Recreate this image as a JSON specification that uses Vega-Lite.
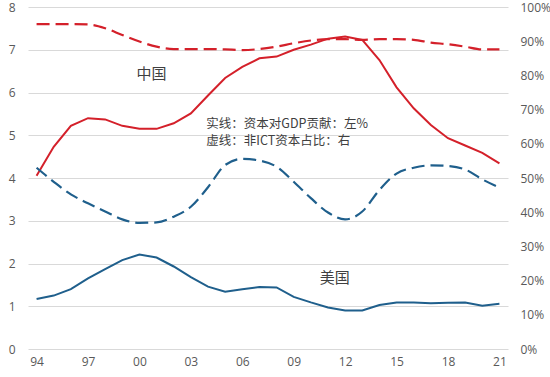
{
  "$schema": "https://vega.github.io/schema/vega-lite/v6.json",
  "width": 480,
  "height": 342,
  "autosize": {"type": "none"},
  "padding": {"left": 28, "top": 7, "right": 42, "bottom": 28},
  "background": "white",
  "config": {
    "view": {"stroke": null},
    "font": "Open Sans",
    "axis": {"labelColor": "#595959", "labelFontSize": 12, "domain": false, "ticks": false, "labelFont": "Open Sans"}
  },
  "datasets": {
    "series": [
      {"year": 1994, "country": "中国", "contrib": 4.05, "share": 0.950},
      {"year": 1995, "country": "中国", "contrib": 4.73, "share": 0.950},
      {"year": 1996, "country": "中国", "contrib": 5.22, "share": 0.950},
      {"year": 1997, "country": "中国", "contrib": 5.40, "share": 0.949},
      {"year": 1998, "country": "中国", "contrib": 5.37, "share": 0.938},
      {"year": 1999, "country": "中国", "contrib": 5.22, "share": 0.918},
      {"year": 2000, "country": "中国", "contrib": 5.15, "share": 0.899},
      {"year": 2001, "country": "中国", "contrib": 5.15, "share": 0.884},
      {"year": 2002, "country": "中国", "contrib": 5.28, "share": 0.877},
      {"year": 2003, "country": "中国", "contrib": 5.51, "share": 0.877},
      {"year": 2004, "country": "中国", "contrib": 5.93, "share": 0.877},
      {"year": 2005, "country": "中国", "contrib": 6.34, "share": 0.876},
      {"year": 2006, "country": "中国", "contrib": 6.60, "share": 0.874},
      {"year": 2007, "country": "中国", "contrib": 6.80, "share": 0.877},
      {"year": 2008, "country": "中国", "contrib": 6.84, "share": 0.884},
      {"year": 2009, "country": "中国", "contrib": 7.00, "share": 0.894},
      {"year": 2010, "country": "中国", "contrib": 7.12, "share": 0.902},
      {"year": 2011, "country": "中国", "contrib": 7.26, "share": 0.906},
      {"year": 2012, "country": "中国", "contrib": 7.31, "share": 0.906},
      {"year": 2013, "country": "中国", "contrib": 7.23, "share": 0.904},
      {"year": 2014, "country": "中国", "contrib": 6.76, "share": 0.906},
      {"year": 2015, "country": "中国", "contrib": 6.12, "share": 0.906},
      {"year": 2016, "country": "中国", "contrib": 5.63, "share": 0.904},
      {"year": 2017, "country": "中国", "contrib": 5.24, "share": 0.896},
      {"year": 2018, "country": "中国", "contrib": 4.93, "share": 0.891},
      {"year": 2019, "country": "中国", "contrib": 4.76, "share": 0.884},
      {"year": 2020, "country": "中国", "contrib": 4.59, "share": 0.876},
      {"year": 2021, "country": "中国", "contrib": 4.34, "share": 0.876},
      {"year": 1994, "country": "美国", "contrib": 1.17, "share": 0.530},
      {"year": 1995, "country": "美国", "contrib": 1.25, "share": 0.489},
      {"year": 1996, "country": "美国", "contrib": 1.40, "share": 0.452},
      {"year": 1997, "country": "美国", "contrib": 1.65, "share": 0.426},
      {"year": 1998, "country": "美国", "contrib": 1.87, "share": 0.402},
      {"year": 1999, "country": "美国", "contrib": 2.08, "share": 0.379},
      {"year": 2000, "country": "美国", "contrib": 2.21, "share": 0.369},
      {"year": 2001, "country": "美国", "contrib": 2.14, "share": 0.370},
      {"year": 2002, "country": "美国", "contrib": 1.93, "share": 0.387},
      {"year": 2003, "country": "美国", "contrib": 1.68, "share": 0.416},
      {"year": 2004, "country": "美国", "contrib": 1.46, "share": 0.473},
      {"year": 2005, "country": "美国", "contrib": 1.34, "share": 0.538},
      {"year": 2006, "country": "美国", "contrib": 1.40, "share": 0.556},
      {"year": 2007, "country": "美国", "contrib": 1.45, "share": 0.551},
      {"year": 2008, "country": "美国", "contrib": 1.44, "share": 0.533},
      {"year": 2009, "country": "美国", "contrib": 1.22, "share": 0.489},
      {"year": 2010, "country": "美国", "contrib": 1.09, "share": 0.441},
      {"year": 2011, "country": "美国", "contrib": 0.97, "share": 0.399},
      {"year": 2012, "country": "美国", "contrib": 0.90, "share": 0.379},
      {"year": 2013, "country": "美国", "contrib": 0.90, "share": 0.402},
      {"year": 2014, "country": "美国", "contrib": 1.03, "share": 0.465},
      {"year": 2015, "country": "美国", "contrib": 1.09, "share": 0.513},
      {"year": 2016, "country": "美国", "contrib": 1.09, "share": 0.530},
      {"year": 2017, "country": "美国", "contrib": 1.07, "share": 0.537},
      {"year": 2018, "country": "美国", "contrib": 1.08, "share": 0.535},
      {"year": 2019, "country": "美国", "contrib": 1.09, "share": 0.525},
      {"year": 2020, "country": "美国", "contrib": 1.01, "share": 0.496},
      {"year": 2021, "country": "美国", "contrib": 1.06, "share": 0.472}
    ],
    "countryLabels": [
      {"year": 2000.7, "y": 6.43, "text": "中国"},
      {"year": 2011.4, "y": 1.66, "text": "美国"}
    ],
    "notes": [
      {"year": 2003.9, "y": 5.27, "text": "实线：资本对GDP贡献：左%"},
      {"year": 2003.9, "y": 4.87, "text": "虚线：非ICT资本占比：右"}
    ]
  },
  "layer": [
    {
      "data": {"name": "series"},
      "mark": {"type": "line", "strokeWidth": 2},
      "encoding": {
        "x": {"field": "year", "type": "quantitative",
              "scale": {"domain": [1993.5, 2021.5], "nice": false, "zero": false},
              "axis": {"title": null, "grid": false, "values": [1994, 1997, 2000, 2003, 2006, 2009, 2012, 2015, 2018, 2021],
                       "labelExpr": "substring(toString(datum.value), 2, 4)", "labelPadding": 7}},
        "y": {"field": "contrib", "type": "quantitative",
              "scale": {"domain": [0, 8], "nice": false},
              "axis": {"title": null, "values": [0, 1, 2, 3, 4, 5, 6, 7, 8], "gridColor": "#d9d9d9", "gridWidth": 1, "labelPadding": 13}},
        "color": {"field": "country", "type": "nominal",
                  "scale": {"domain": ["中国", "美国"], "range": ["#d4202a", "#1f5f8c"]}, "legend": null}
      }
    },
    {
      "data": {"name": "series"},
      "mark": {"type": "line", "strokeWidth": 2.2, "strokeDash": [13, 6], "interpolate": "monotone"},
      "encoding": {
        "x": {"field": "year", "type": "quantitative"},
        "y": {"field": "share", "type": "quantitative",
              "scale": {"domain": [0, 1], "nice": false},
              "axis": {"title": null, "orient": "right", "format": ".0%", "grid": false,
                       "values": [0, 0.1, 0.2, 0.3, 0.4, 0.5, 0.6, 0.7, 0.8, 0.9, 1], "labelPadding": 12}},
        "color": {"field": "country", "type": "nominal", "legend": null}
      }
    },
    {
      "data": {"name": "countryLabels"},
      "mark": {"type": "text", "font": "Noto Sans CJK SC", "color": "#404040", "baseline": "middle", "align": "center", "fontSize": 15},
      "encoding": {
        "x": {"field": "year", "type": "quantitative"},
        "y": {"field": "y", "type": "quantitative", "scale": {"domain": [0, 8], "nice": false}, "axis": null},
        "text": {"field": "text"}
      }
    },
    {
      "data": {"name": "notes"},
      "mark": {"type": "text", "font": "Noto Sans CJK SC", "color": "#404040", "baseline": "middle", "align": "left", "fontSize": 12.5},
      "encoding": {
        "x": {"field": "year", "type": "quantitative"},
        "y": {"field": "y", "type": "quantitative", "scale": {"domain": [0, 8], "nice": false}, "axis": null},
        "text": {"field": "text"}
      }
    }
  ],
  "resolve": {"scale": {"y": "independent", "color": "shared"}}
}
